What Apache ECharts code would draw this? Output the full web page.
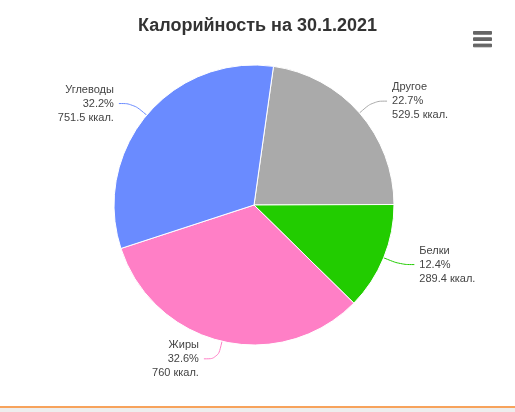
<!DOCTYPE html>
<html><head><meta charset="utf-8">
<script src="https://cdn.jsdelivr.net/npm/echarts@6/dist/echarts.min.js"></script>
<style>html,body{margin:0;padding:0;background:#fff}#c{width:515px;height:406px}
#b{position:absolute;left:0;top:406px;width:515px;height:2px;background:#f7a35c}
#g{position:absolute;left:0;top:408px;width:515px;height:4px;background:#eee}</style>
</head><body><div id="c"></div><div id="b"></div><div id="g"></div>
<script>
const categories=['Другое','Белки','Жиры','Углеводы'];
const values=[529.5,289.4,760,751.5];
const percents=['22.7','12.4','32.6','32.2'];
const colors=['#aaaaaa','#22cc00','#ff7fc6','#6a8bff'];
const ch=echarts.init(document.getElementById('c'));
ch.setOption({
 animation:false,
 title:{text:'Калорийность на 30.1.2021',left:'center',top:12,textStyle:{fontFamily:'Liberation Sans, Arial',fontSize:18,fontWeight:'bold',color:'#333'}},
 toolbox:{right:8,top:16,itemSize:18,feature:{myMenu:{show:true,title:'menu',icon:'path://M0,2L20,2L20,5L0,5Z M0,9L20,9L20,12L0,12Z M0,16L20,16L20,19L0,19Z',onclick:function(){}}},iconStyle:{color:'#666',borderColor:'#666'}},
 series:[{type:'pie',center:[254,205],radius:[0,140],startAngle:82,clockwise:true,
  itemStyle:{borderColor:'#fff',borderWidth:1},
  label:{fontFamily:'Liberation Sans, Arial',fontSize:11,color:'#444',lineHeight:14,align:'left',
   formatter:p=>p.name+'\n'+percents[p.dataIndex]+'%\n'+values[p.dataIndex]+' ккал.'},
  labelLine:{length:18,length2:14,smooth:0.4,lineStyle:{width:1}},
  data:categories.map((n,i)=>({name:n,value:values[i],itemStyle:{color:colors[i]}}))}]
});
</script></body></html>
